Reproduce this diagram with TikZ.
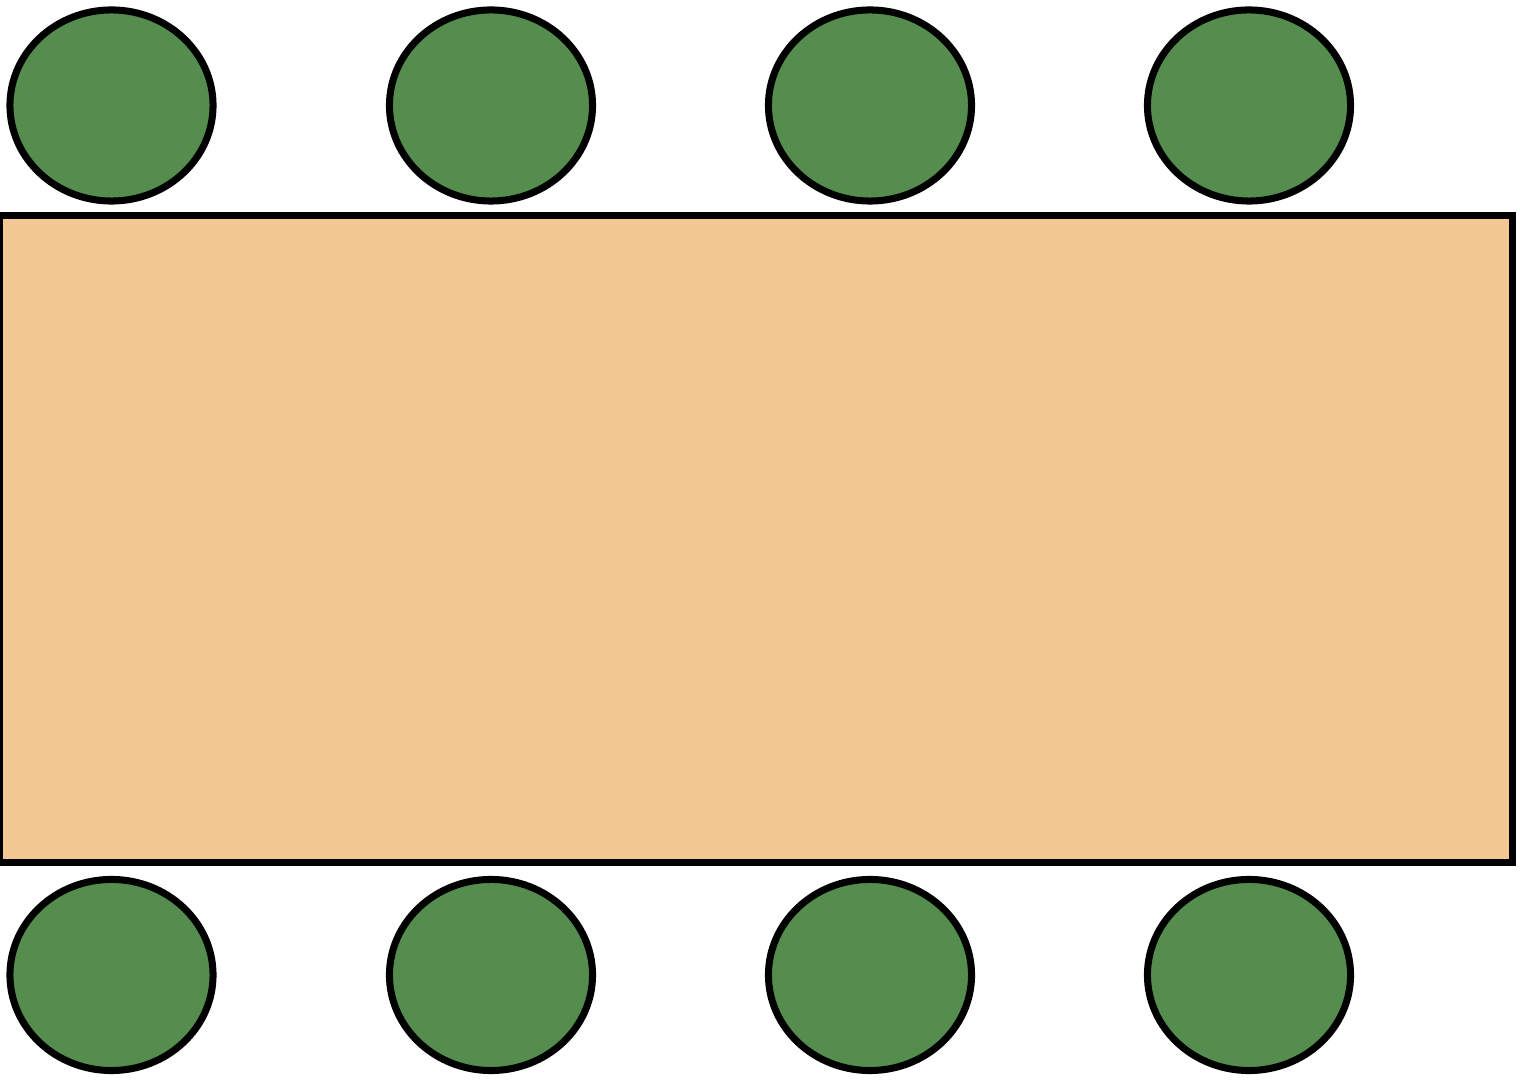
\documentclass[tikz,border=0pt]{standalone}
\usetikzlibrary{shapes.geometric}
\definecolor{seatgreen}{RGB}{84,141,78}
\definecolor{tabletan}{RGB}{244,200,146}
\tikzset{
  seat/.style={ellipse, draw=black, fill=seatgreen, line width=2pt,
    minimum width=2.03cm, minimum height=1.91cm, inner sep=0pt},
  tablebox/.style={rectangle, draw=black, fill=tabletan, line width=1.9pt,
    minimum width=15.12cm, minimum height=6.465cm, inner sep=0pt}
}
\begin{document}
\begin{tikzpicture}[x=0.01cm,y=-0.01cm]
\useasboundingbox (0,0) rectangle (1520,1080);
\node[tablebox] (table) at (756,539.25) {};
\node[seat] (t1) at (111.5,105.5) {};
\node[seat] (t2) at (491,105.5) {};
\node[seat] (t3) at (870,105.5) {};
\node[seat] (t4) at (1249,105.5) {};
\node[seat] (b1) at (111.5,975) {};
\node[seat] (b2) at (491,975) {};
\node[seat] (b3) at (870,975) {};
\node[seat] (b4) at (1249,975) {};
\end{tikzpicture}
\end{document}
